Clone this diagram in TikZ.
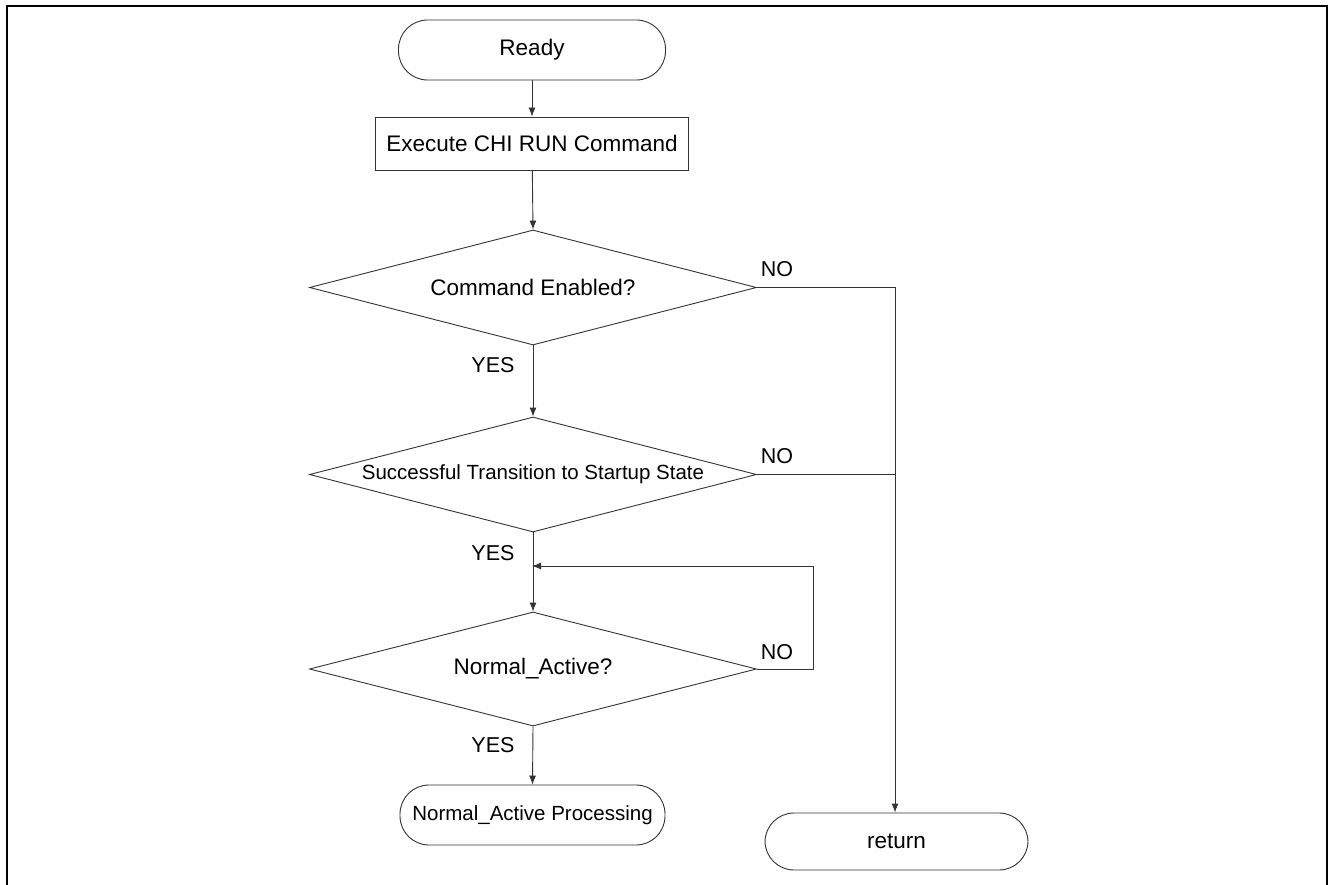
\documentclass[tikz,border=0pt]{standalone}
\usepackage{fontspec}
\setmainfont{Liberation Sans}
\usetikzlibrary{shapes.geometric,arrows.meta}

\newcommand{\txtbig}{\fontsize{22.5}{27}\selectfont}
\newcommand{\txtsmall}{\fontsize{20.5}{25}\selectfont}
\newcommand{\zw}[1]{\makebox[0pt]{#1}}

\begin{document}
\begin{tikzpicture}[x=1pt,y=-1pt,
  every node/.style={font=\txtbig, text=black},
  line/.style={draw=black!80, line width=0.9pt},
  flow/.style={line, -{Latex[length=9pt,width=7pt]}},
  terminal/.style={line, rectangle, rounded corners=29pt, inner sep=0pt, minimum height=60pt},
  process/.style={line, rectangle, inner sep=0pt, minimum width=313pt, minimum height=53pt},
  decision/.style={line, diamond, aspect=3.9, inner sep=0pt, minimum width=447pt},
  lbl/.style={inner sep=0pt, font=\fontsize{21.5}{26}\selectfont}
]
  % page frame, open at the bottom
  \useasboundingbox (0,0) rectangle (1328,885);
  \draw[line width=2pt] (7,885) -- (7,6) -- (1327,6) -- (1327,885);

  % nodes
  \node[terminal, minimum width=267pt] (ready) at (532,50) {Ready};
  \node[process] (exec) at (532,143.5) {Execute CHI RUN Command};
  \node[decision, minimum height=115pt] (d1) at (533,287.5) {\zw{Command Enabled?}};
  \node[decision, minimum height=115pt] (d2) at (533,474.5) {\zw{\txtsmall Successful Transition to Startup State}};
  \node[decision, minimum height=114pt] (d3) at (533,669) {\zw{Normal\_Active?}};
  \node[terminal, minimum width=265pt, font=\txtsmall] (nap) at (532.5,815) {Normal\_Active Processing};
  \node[terminal, minimum width=263pt, minimum height=57pt] (ret) at (896.5,841.5) {return};

  \coordinate (rj) at (895,287.5);
  \coordinate (loopin) at (532,566);
  \coordinate (loopr) at (813,566);

  % main flow
  \draw[flow] (ready) -- (exec);
  \draw[flow] (exec) -- (d1.north);
  \draw[flow] (d1.south) -- (d2.north);
  \draw[flow] (d2.south) -- (d3.north);
  \draw[flow] (d3.south) -- (nap.north);

  % NO branches towards return
  \draw[line] (d1.east) -- (rj);
  \draw[flow] (rj) -- (rj |- ret.north);
  \draw[line] (d2.east) -- (rj |- d2.east);

  % retry loop
  \draw[flow] (d3.east) -- (loopr |- d3.east) -- (loopr) -- (loopin);

  % labels
  \node[lbl] (y1) at (493,365) {YES};
  \node[lbl] (y2) at (493,553) {YES};
  \node[lbl] (y3) at (493,745) {YES};
  \node[lbl] (n1) at (777,269) {NO};
  \node[lbl] (n2) at (777,456) {NO};
  \node[lbl] (n3) at (777,652) {NO};
\end{tikzpicture}
\end{document}
